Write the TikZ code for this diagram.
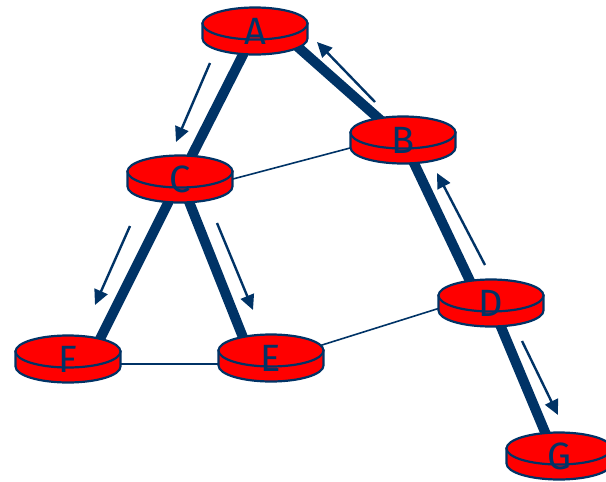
\documentclass[tikz,border=0pt]{standalone}
\usepackage{fontspec}
\setsansfont{Fira Sans}
\usepackage{xcolor}
\usetikzlibrary{arrows.meta, calc}
\definecolor{navy}{HTML}{003366}
\pgfdeclarelayer{background}
\pgfsetlayers{background,main}
\tikzstyle{routerbody} = [draw=navy, fill=red, line width=2.2pt]
\tikzstyle{tag} = [minimum width=105pt, minimum height=47pt, inner sep=0pt, text=navy, font=\sffamily\fontsize{38}{38}\selectfont]
\tikzstyle{tree} = [draw=navy, line width=10pt]
\tikzstyle{link} = [draw=navy, line width=1.6pt]
\tikzstyle{flow} = [draw=navy, line width=2.4pt, -{Triangle[length=15pt,width=14pt]}]
% router: name, position, letter
\newcommand{\router}[3]{%
    \begin{scope}[shift={(#2)}]
        \filldraw [routerbody] (-52.5,-7.5) -- (-52.5,7.5) arc[start angle=180, end angle=0, x radius=52.5, y radius=16] -- (52.5,-7.5) -- cycle;
        \filldraw [routerbody] (0,-7.5) ellipse [x radius=52.5, y radius=16];
    \end{scope}
    \node (#1) [tag] at (#2) {\raisebox{-3pt}{#3}};
}

\begin{document}
\begin{tikzpicture}[x=1pt, y=-1pt]
    \useasboundingbox (0,0) rectangle (606,482);
    \router{A}{255,31}{A}
    \router{B}{403,140}{B}
    \router{C}{180,179}{C}
    \router{D}{491,303}{D}
    \router{E}{271,358}{E}
    \router{F}{68,359}{F}
    \router{G}{559,456}{G}

    \begin{pgfonlayer}{background}
        % spanning tree
        \draw [tree] (A.center) -- (C.center);
        \draw [tree] ($(A.center)+(18,-6)$) -- (B.center);
        \draw [tree] (C.center) -- ($(F.center)+(24,-4)$);
        \draw [tree] (C.center) -- ($(E.center)+(-23,-8)$);
        \draw [tree] (B.center) -- ($(D.center)+(-12,-3)$);
        \draw [tree] (D.center) -- ($(G.center)+(-4,0)$);
        % other links
        \draw [link] ($(C.center)+(0,14)$) -- ($(B.center)+(0,-6)$);
        \draw [link] ($(F.center)+(0,5)$) -- ($(E.center)+(0,6)$);
        \draw [link] ($(E.center)+(0,3)$) -- ($(D.center)+(0,-11)$);
    \end{pgfonlayer}

    % flooding directions
    \coordinate (ac1) at (210,63);  \coordinate (ac2) at (176,142);
    \coordinate (ba1) at (375,102); \coordinate (ba2) at (317,42);
    \coordinate (db1) at (485,265); \coordinate (db2) at (437,173);
    \coordinate (cf1) at (130,226); \coordinate (cf2) at (95,305);
    \coordinate (ce1) at (217,223); \coordinate (ce2) at (253,310);
    \coordinate (dg1) at (522,341); \coordinate (dg2) at (558,415);
    \draw [flow] (ac1) -- (ac2);
    \draw [flow] (ba1) -- (ba2);
    \draw [flow] (db1) -- (db2);
    \draw [flow] (cf1) -- (cf2);
    \draw [flow] (ce1) -- (ce2);
    \draw [flow] (dg1) -- (dg2);
\end{tikzpicture}
\end{document}
